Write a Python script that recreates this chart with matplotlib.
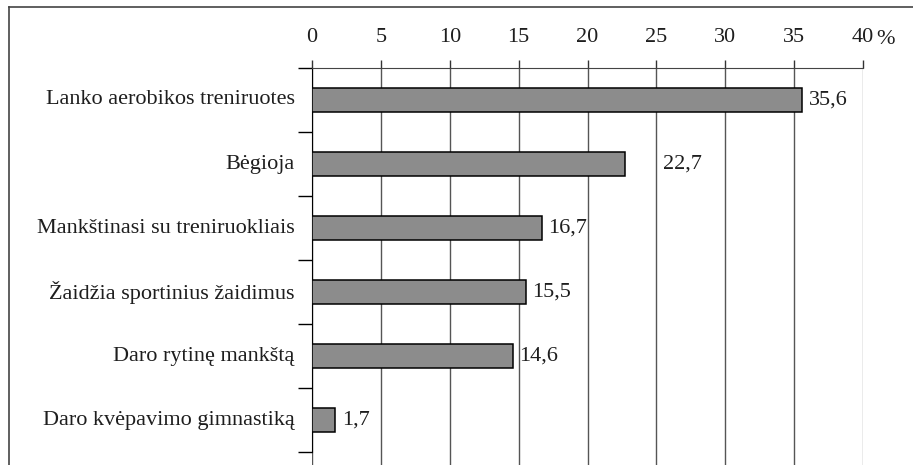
import matplotlib
matplotlib.use("Agg")
import matplotlib.pyplot as plt
from matplotlib.lines import Line2D
import numpy as np

# data
categories = [
    "Lanko aerobikos treniruotes",
    "Bėgioja",
    "Mankštinasi su treniruokliais",
    "Žaidžia sportinius žaidimus",
    "Daro rytinę mankštą",
    "Daro kvėpavimo gimnastiką",
]
values = [35.6, 22.7, 16.7, 15.5, 14.6, 1.7]
value_labels = ["35,6", "22,7", "16,7", "15,5", "14,6", "1,7"]
x_ticks = [0, 5, 10, 15, 20, 25, 30, 35, 40]

plt.rcParams['font.family'] = ['Liberation Serif', 'DejaVu Serif']
FS = 16
TXT = '#1e1e1e'

W, H = 913, 465
fig = plt.figure(figsize=(W / 100, H / 100), dpi=100)

# axes box in pixels: left 312, right 863, top 68, bottom of figure
left, right, top, bottom = 312, 863, 68, 465
ax = fig.add_axes([left / W, 0, (right - left) / W, (H - top) / H])

n = len(categories)
ypos = np.arange(n)
ax.barh(ypos, values, height=0.39, color='#8c8c8c', edgecolor='black',
        linewidth=1.1, zorder=3)

ax.set_xlim(0, 40)
extra = (bottom - 452) / 64
ax.set_ylim(n - 0.5 + extra, -0.5)

# category labels (between boundary ticks)
ax.set_yticks(np.arange(n + 1) - 0.5)
ax.set_yticklabels([])
ax.tick_params(axis='y', length=10, width=1, color='black', direction='out')
for y, c in zip(ypos, categories):
    ax.text(-1.25, y, c, ha='right', va='center', fontsize=FS, color=TXT)

# value labels
label_pad = [0.5, 2.8, 0.45, 0.45, 0.45, 0.5]
for y, v, lab, p in zip(ypos, values, value_labels, label_pad):
    ax.text(v + p, y, lab, ha='left', va='center', fontsize=FS, color=TXT)

# x axis on top
ax.xaxis.tick_top()
ax.set_xticks(x_ticks)
ax.set_xticklabels([str(t) for t in x_ticks], fontsize=FS, color=TXT)
ax.tick_params(axis='x', length=6, width=1, color='#333333', pad=9, direction='out')
ax.text(41.6, -0.5 - 0.37, "%", ha='center', va='baseline', fontsize=FS, color=TXT)

ax.grid(axis='x', color='#555555', linewidth=1, zorder=0)
ax.get_xgridlines()[-1].set_color('#999999')
for s in ['bottom', 'right']:
    ax.spines[s].set_visible(False)
ax.spines['top'].set_color('#444444')
ax.spines['left'].set_color('black')
ax.spines['left'].set_bounds(n - 0.5, -0.5)

# outer frame (top and left)
fig.add_artist(Line2D([9 / W, 1], [1 - 7 / H, 1 - 7 / H], color='#444444', linewidth=1.2))
fig.add_artist(Line2D([9 / W, 9 / W], [0, 1 - 7 / H], color='#444444', linewidth=1.2))

fig.savefig("out.png", dpi=100)
